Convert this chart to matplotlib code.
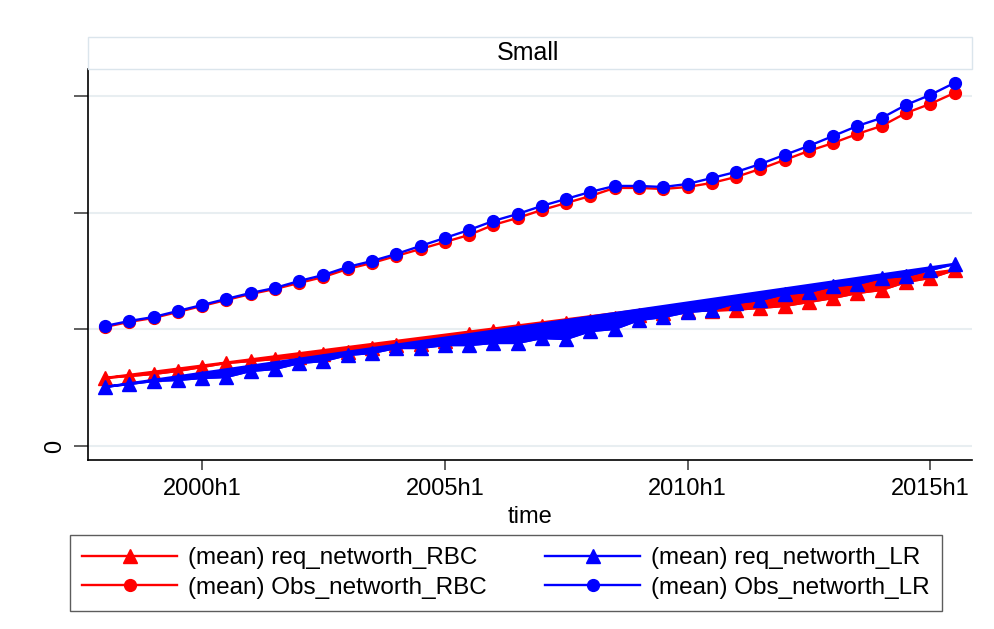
import numpy as np
import matplotlib
matplotlib.use('Agg')
import matplotlib.pyplot as plt
from matplotlib.lines import Line2D
from matplotlib.patches import Rectangle

plt.rcParams['font.family'] = ['Liberation Sans', 'DejaVu Sans']

# half-year periods 1998h1 .. 2015h2 (Stata %th: 1998h1 = 76)
start_h = 76
n_periods = 36
xtick_pos = [80, 90, 100, 110]
xtick_lab = ['2000h1', '2005h1', '2010h1', '2015h1']
ytick_pos = [0, 1, 2, 3]
ytick_lab = ['0', '', '', '']

req_RBC = [0.583, 0.600, 0.617, 0.643, 0.677, 0.711, 0.728, 0.745, 0.763, 0.788,
           0.805, 0.840, 0.865, 0.874, 0.900, 0.960, 0.985, 1.011, 1.028, 1.054,
           1.071, 1.097, 1.123, 1.140, 1.160, 1.160, 1.168, 1.183, 1.200, 1.234,
           1.268, 1.311, 1.337, 1.405, 1.440, 1.508]
req_LR = [0.506, 0.531, 0.557, 0.566, 0.583, 0.591, 0.643, 0.660, 0.711, 0.728,
          0.780, 0.797, 0.840, 0.840, 0.865, 0.865, 0.883, 0.883, 0.925, 0.917,
          0.985, 1.003, 1.080, 1.105, 1.148, 1.165, 1.225, 1.251, 1.302, 1.320,
          1.371, 1.388, 1.440, 1.457, 1.508, 1.560]
obs_RBC = [1.020, 1.063, 1.097, 1.148, 1.200, 1.251, 1.302, 1.345, 1.397, 1.448,
           1.517, 1.568, 1.628, 1.688, 1.748, 1.808, 1.894, 1.954, 2.022, 2.082,
           2.142, 2.211, 2.211, 2.202, 2.219, 2.254, 2.305, 2.374, 2.451, 2.528,
           2.596, 2.674, 2.742, 2.853, 2.931, 3.025]
obs_LR = [1.028, 1.071, 1.105, 1.157, 1.208, 1.260, 1.311, 1.354, 1.414, 1.465,
          1.534, 1.585, 1.645, 1.714, 1.782, 1.851, 1.928, 1.988, 2.057, 2.117,
          2.177, 2.228, 2.228, 2.219, 2.245, 2.296, 2.348, 2.416, 2.494, 2.571,
          2.656, 2.742, 2.811, 2.922, 3.008, 3.111]

t = np.arange(start_h, start_h + n_periods)

fig = plt.figure(figsize=(9.95, 6.29), dpi=100)
ax = fig.add_axes([88 / 995, 1 - 460 / 629, 884 / 995, 391 / 629])

red, blue = '#ff0000', '#0000ff'
lw = 1.7

# req series: in the data the line jumps back to the first/last obs, so the
# area between the chord and the markers comes out solid -> draw it as a fill
series = [(req_RBC, red, '^', True), (req_LR, blue, '^', True),
          (obs_RBC, red, 'o', False), (obs_LR, blue, 'o', False)]
for vals, col, mk, fan in series:
    v = np.array(vals)
    if fan:
        ax.fill(t, v, color=col, lw=lw, zorder=2)
    ax.plot(t, v, color=col, lw=lw, marker=mk, ms=9.5 if mk == '^' else 8.5,
            mec=col, mfc=col, zorder=2)

ax.set_xlim(start_h - 0.7, start_h + 35.72)
ax.set_ylim(-0.12, 3.23)
ax.set_xticks(xtick_pos)
ax.set_xticklabels(xtick_lab, fontsize=17)
ax.set_yticks(ytick_pos)
ax.set_yticklabels(ytick_lab, fontsize=17, rotation=90, va='center')
ax.tick_params(axis='y', length=10, width=1.2, color='#444444', pad=6)
ax.tick_params(axis='x', length=7, width=1.2, color='#444444', pad=6)
ax.grid(axis='y', color='#e8eef1', lw=1.5)
ax.set_axisbelow(True)
for s in ['top', 'right']:
    ax.spines[s].set_visible(False)
for s in ['left', 'bottom']:
    ax.spines[s].set_linewidth(1.2)
ax.set_xlabel('time', fontsize=17, labelpad=4)

# title box
fig.add_artist(Rectangle((88 / 995, 1 - 69 / 629), 884 / 995, 32 / 629,
                         transform=fig.transFigure, fill=False, ec='#dbe5ec', lw=1))
fig.text(528 / 995, 1 - 53 / 629, 'Small', fontsize=18, ha='center', va='center')

handles = [Line2D([], [], color=red, lw=lw, marker='^', ms=9.5),
           Line2D([], [], color=red, lw=lw, marker='o', ms=8.5),
           Line2D([], [], color=blue, lw=lw, marker='^', ms=9.5),
           Line2D([], [], color=blue, lw=lw, marker='o', ms=8.5)]
labels = ['(mean) req_networth_RBC', '(mean) Obs_networth_RBC',
          '(mean) req_networth_LR', '(mean) Obs_networth_LR']
leg = fig.legend(handles, labels, ncol=2, loc='center',
                 bbox_to_anchor=(506 / 995, 1 - 573 / 629),
                 fontsize=17.5, frameon=True, fancybox=False,
                 edgecolor='#333333', handlelength=3.9, handletextpad=0.45,
                 labelspacing=0.3, borderpad=0.5, borderaxespad=0,
                 columnspacing=2.4)
leg.get_frame().set_linewidth(1)

fig.savefig('out.png', dpi=100)
